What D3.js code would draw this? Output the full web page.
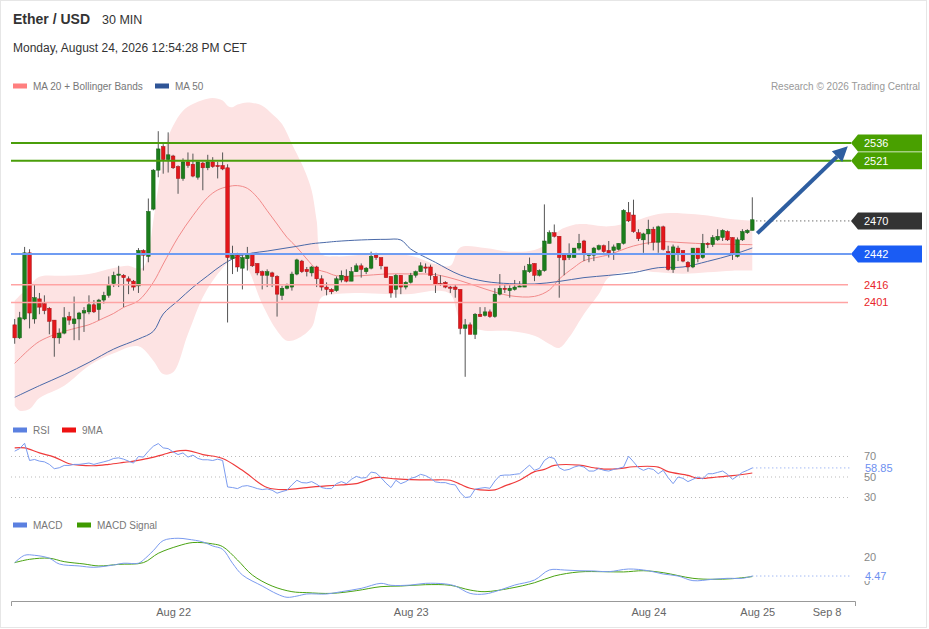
<!DOCTYPE html>
<html>
<head>
<meta charset="utf-8">
<script src="https://cdn.jsdelivr.net/npm/d3@7"></script>
<style>
  body { margin: 0; background: #fff; }
  svg { display: block; font-family: "Liberation Sans", Arial, sans-serif; }
</style>
</head>
<body>
<div id="chart"></div>
<script>
// 30 min candles, [open, high, low, close]
var ohlc = [
  [2382,2387,2366,2371],[2371,2393,2370,2388],[2387,2448,2386,2443],[2443,2446,2379,2392],[2387,2416,2383,2405],
  [2404,2409,2391,2397],[2400,2407,2391,2394],[2396,2397,2374,2385],[2386,2386,2355,2371],[2371,2379,2366,2375],
  [2375,2397,2374,2388],[2389,2393,2382,2386],[2383,2406,2369,2387],[2387,2393,2369,2392],[2392,2397,2376,2394],
  [2393,2407,2391,2399],[2399,2403,2392,2393],[2395,2404,2386,2403],[2403,2410,2400,2407],[2407,2423,2405,2416],
  [2417,2427,2414,2424],[2424,2432,2414,2425],[2424,2425,2397,2422],[2421,2423,2408,2419],[2419,2420,2411,2414],
  [2415,2447,2409,2445],[2445,2446,2428,2441],[2440,2489,2435,2478],[2480,2514,2479,2513],[2513,2546,2507,2531],
  [2533,2535,2510,2522],[2522,2545,2511,2526],[2525,2526,2514,2515],[2516,2517,2493,2506],[2506,2523,2504,2520],
  [2520,2528,2515,2517],[2518,2527,2507,2508],[2507,2520,2505,2520],[2519,2520,2496,2515],[2515,2526,2513,2520],
  [2520,2524,2515,2516],[2517,2520,2506,2516],[2517,2528,2513,2514],[2515,2518,2384,2439],[2438,2449,2425,2441],
  [2441,2443,2427,2431],[2430,2441,2412,2439],[2438,2448,2428,2441],[2442,2443,2431,2432],[2434,2434,2424,2426],
  [2427,2428,2412,2424],[2424,2429,2414,2427],[2426,2427,2414,2423],[2423,2424,2389,2408],[2407,2415,2403,2413],
  [2413,2417,2412,2415],[2414,2427,2411,2425],[2425,2438,2424,2437],[2436,2437,2426,2427],[2429,2431,2423,2427],
  [2426,2432,2423,2431],[2431,2432,2414,2421],[2421,2424,2411,2414],[2414,2418,2407,2412],[2412,2413,2408,2410],
  [2411,2423,2410,2421],[2420,2428,2418,2424],[2423,2429,2418,2419],[2419,2431,2419,2427],[2427,2434,2427,2432],
  [2432,2434,2422,2429],[2427,2431,2425,2430],[2430,2444,2429,2440],[2441,2443,2437,2439],[2439,2439,2429,2432],
  [2431,2431,2422,2422],[2423,2423,2405,2409],[2412,2425,2405,2424],[2424,2424,2408,2414],[2414,2419,2412,2418],
  [2418,2426,2417,2424],[2424,2428,2422,2427],[2427,2435,2427,2432],[2431,2434,2426,2430],[2431,2433,2420,2424],
  [2423,2426,2409,2416],[2417,2424,2415,2416],[2418,2419,2413,2414],[2414,2415,2409,2413],[2414,2416,2405,2412],
  [2412,2412,2374,2379],[2379,2387,2338,2382],[2382,2384,2374,2374],[2374,2392,2370,2391],[2391,2397,2389,2389],
  [2390,2397,2389,2393],[2393,2395,2388,2389],[2389,2413,2388,2408],[2408,2425,2407,2413],[2413,2416,2409,2412],
  [2411,2416,2405,2413],[2412,2420,2411,2414],[2414,2419,2414,2415],[2414,2432,2414,2428],[2427,2439,2426,2433],
  [2434,2434,2419,2424],[2424,2429,2423,2428],[2428,2484,2427,2453],[2451,2462,2451,2460],[2460,2467,2456,2457],
  [2457,2457,2405,2439],[2441,2442,2424,2437],[2439,2451,2437,2441],[2439,2447,2439,2447],[2447,2459,2445,2451],
  [2453,2454,2436,2443],[2440.6,2442,2435,2441.4],[2441,2448,2436,2447],[2446,2450,2445,2449],[2449,2450,2443,2444],
  [2445,2453,2439,2443],[2445,2450,2437,2448],[2446,2451,2445,2451],[2451,2480,2450,2479],[2477,2486,2469,2470],
  [2475,2488,2460,2461],[2460,2463,2453,2455],[2454,2460,2443,2459],[2459,2471,2450,2463],[2463,2465,2445,2452],
  [2452,2466,2443,2465],[2465,2466,2445,2446],[2444,2449,2428,2429],[2429,2450,2426,2448],[2447,2449,2436,2443],
  [2445,2445,2435,2436],[2435,2436,2427,2431],[2431,2447,2430,2447],[2447,2447,2435,2438],[2439,2459,2438,2451],
  [2451,2452,2447,2450],[2450,2458,2448,2456],[2454,2463,2453,2457],[2456,2463,2453,2462],[2461,2462,2453,2454],
  [2456,2456,2437,2443],[2440,2456,2439,2454],[2454,2463,2453,2461],[2460,2463,2459,2462],[2462,2490,2462,2471]
];

// moving averages, [candle index, value]
var ma20 = [[0,2349.4],[3,2361.5],[5,2368.0],[8,2373.7],[10,2376.5],[13,2379.9],[15,2382.1],[18,2387.8],[20,2391.7],
  [22,2396.8],[25,2402.5],[28,2418.0],[30,2433.5],[33,2456.1],[36,2474.5],[39,2490.0],[41,2496.2],[43,2499.0],
  [45,2499.9],[47,2497.6],[49,2490.0],[51,2478.7],[53,2467.4],[55,2456.1],[57,2447.6],[59,2437.8],[61,2429.3],
  [63,2426.5],[65,2423.6],[70,2423.6],[75,2425.1],[80,2425.1],[85,2424.5],[90,2419.4],[95,2412.4],[100,2406.7],
  [105,2406.1],[108,2411.5],[110,2420.8],[113,2430.7],[115,2436.3],[120,2441.4],[125,2448.8],[130,2452.4],
  [135,2451.6],[140,2450.5],[145,2450.2],[149,2449.9]];
var ma50 = [[0,2320.6],[5,2330.5],[10,2339.8],[15,2350.2],[20,2361.5],[25,2370.0],[28,2376.5],[30,2391.2],
  [33,2402.5],[36,2413.8],[39,2423.6],[42,2433.0],[45,2439.7],[48,2442.8],[51,2444.5],[54,2446.5],[57,2448.5],
  [60,2450.7],[63,2451.9],[65,2452.7],[70,2453.9],[75,2454.4],[78,2453.9],[80,2446.2],[85,2434.9],[90,2424.2],
  [95,2418.8],[100,2416.9],[105,2416.6],[110,2418.8],[115,2422.0],[120,2423.9],[125,2426.2],[130,2430.4],
  [135,2431.0],[140,2435.8],[145,2441.4],[149,2447.1]];
var bbUpper = [[0,2402.5],[3,2415.2],[5,2422.8],[10,2423.6],[15,2425.1],[20,2430.1],[23,2432.1],[25,2429.3],
  [26,2430.7],[27,2442.0],[28,2470.2],[29,2498.5],[30,2523.9],[31,2540.8],[32,2550.7],[34,2563.4],[36,2569.0],
  [38,2572.4],[40,2574.1],[42,2571.9],[43,2567.6],[44,2566.2],[45,2568.5],[47,2570.4],[50,2567.6],[52,2560.6],
  [54,2552.1],[56,2535.2],[58,2518.2],[59,2508.3],[60,2495.6],[61,2470.2],[62,2442.0],[65,2440.0],[70,2441.4],
  [75,2442.6],[80,2440.6],[85,2433.5],[88,2432.1],[90,2447.6],[95,2447.1],[100,2444.0],[105,2445.4],[108,2451.9],
  [110,2461.8],[113,2466.8],[115,2467.4],[120,2465.4],[125,2469.7],[130,2475.9],[135,2476.4],[140,2474.7],
  [145,2471.4],[149,2470.2]];
var bbLower = [[0,2313.6],[1,2309.3],[3,2310.7],[5,2320.0],[10,2330.5],[15,2347.4],[20,2357.9],[25,2363.8],
  [28,2351.7],[30,2340.4],[32,2341.8],[35,2374.2],[38,2405.3],[40,2419.4],[43,2434.9],[45,2442.0],[47,2430.7],
  [50,2399.7],[53,2377.1],[55,2368.6],[57,2370.0],[60,2379.9],[61,2394.0],[62,2405.3],[65,2408.1],[70,2409.0],
  [75,2408.1],[80,2408.1],[85,2410.9],[88,2408.1],[90,2385.5],[92,2379.9],[95,2377.1],[100,2376.8],[105,2372.8],
  [108,2365.8],[110,2362.4],[112,2371.4],[115,2391.2],[118,2408.1],[120,2422.2],[125,2427.9],[130,2426.5],
  [135,2425.3],[140,2426.5],[145,2427.9],[149,2427.9]];

// RSI per candle and its 9 period average
var rsi = [75.2,77.7,82.9,66.1,67.1,65.5,64.8,62.3,58.1,59.0, 61.3,61.3,62.3,62.3,62.9,63.6,62.3,63.6,64.8,66.1,
  68.1,68.7,67.4,65.5,63.6,70.0,69.4,75.2,80.0,82.6, 78.4,77.7,74.5,71.9,73.5,69.4,71.3,68.1,66.8,66.8,
  66.1,67.4,66.1,40.3,39.7,38.7,41.0,41.6,40.3,38.7, 37.7,38.4,37.1,34.2,35.8,37.1,42.3,46.8,44.5,44.2,
  45.5,42.9,39.7,38.7,38.7,43.5,45.5,43.5,47.7,50.6, 49.0,49.4,54.8,53.9,49.4,44.0,39.7,46.8,43.5,45.5,
  48.7,50.0,52.6,51.3,48.7,45.2,44.5,44.5,42.9,42.3, 34.8,30.0,30.6,38.1,39.0,39.7,39.0,46.1,51.3,51.9,
  51.9,52.6,53.2,57.4,61.6,56.5,58.4,66.1,69.4,68.1, 59.0,56.5,57.4,59.7,61.0,59.7,55.8,55.8,58.4,56.5,
  55.8,57.4,58.4,59.7,70.3,64.8,59.0,56.5,58.4,57.4, 53.2,56.5,49.4,43.5,50.0,48.7,45.5,47.7,50.0,48.1,
  53.2,53.2,54.5,55.8,52.6,47.7,51.0,54.5,56.5,58.85];
var rsiMa = [[0,78.4],[2,78.4],[5,73.5],[8,69.4],[11,62.9],[13,61.6],[16,61.0],[19,62.3],[22,64.2],[24,65.5],
  [27,68.1],[30,71.9],[32,74.5],[35,75.8],[38,71.9],[42,68.1],[46,56.5],[51,39.7],[55,37.7],[59,39.7],[63,41.3],
  [66,42.3],[69,43.5],[73,49.4],[77,48.1],[80,47.4],[84,47.1],[88,46.8],[90,42.9],[92,39.0],[94,37.4],[97,37.4],
  [99,41.3],[102,46.8],[105,55.2],[107,57.4],[109,61.3],[114,61.6],[117,59.0],[119,57.7],[122,58.1],[125,60.0],
  [130,59.7],[132,55.2],[136,51.6],[138,48.7],[142,50.0],[145,51.3],[149,53.9]];

// MACD and signal, [candle index, value]
var macd = [[0,15.4],[2,21.4],[4,21.4],[7,19.0],[9,14.3],[13,12.7],[16,11.6],[20,13.5],[22,14.9],[25,14.9],
  [26,17.6],[28,25.2],[30,33.4],[33,35.3],[35,34.5],[38,32.3],[40,29.0],[42,26.3],[44,14.9],[46,5.3],[50,-3.7],
  [53,-10.2],[55,-12.9],[57,-11.9],[59,-10.2],[63,-10.2],[66,-8.3],[70,-5.6],[74,-1.5],[76,-3.1],[80,-2.9],
  [83,-1.5],[87,-2.0],[89,-3.7],[92,-9.7],[95,-10.2],[98,-7.0],[101,-2.9],[105,1.2],[108,9.4],[111,9.4],
  [114,8.8],[117,8.6],[120,8.0],[124,10.2],[128,8.8],[131,6.1],[134,4.5],[137,0.7],[141,1.8],[144,2.6],
  [147,2.6],[149,4.47]];
var macdSignal = [[0,15.4],[3,18.1],[7,19.0],[10,16.2],[14,14.3],[17,12.7],[21,14.0],[26,15.4],[29,23.0],
  [33,29.0],[36,31.8],[40,30.7],[42,28.5],[45,17.6],[48,5.3],[52,-3.7],[56,-8.3],[59,-9.1],[64,-9.7],[69,-7.5],
  [74,-4.2],[78,-3.7],[83,-2.6],[88,-3.1],[92,-7.0],[95,-8.3],[100,-5.6],[105,-1.0],[109,4.5],[114,7.8],
  [119,8.0],[123,7.8],[127,8.8],[131,7.2],[137,2.6],[141,1.8],[145,2.3],[149,4.0]];

// key levels on the right
var resistLevels = [2536, 2521];
var supportLevel = 2442;
var lastPrice = 2470;
var minorLevels = [2416, 2401];
var targetLevel = 2535;

// axis labels
var xTickIdx = [32, 80, 128, 150, 164];
var xTickLabels = ["Aug 22", "Aug 23", "Aug 24", "Aug 25", "Sep 8"];
var rsiTicks = [70, 50, 30];
var rsiLast = "58.85";
var macdTicks = [20, 0];
var macdLast = "4.47";

function drawChart() {
  var width = 929, height = 629;
  var plotLeft = 11, plotRight = 855, tagX = 851;

  var svg = d3.select("#chart")
    .append("svg")
    .attr("width", width)
    .attr("height", height);

  // light frame
  svg.append("rect")
    .attr("x", 0.5).attr("y", 0.5)
    .attr("width", 926).attr("height", 627)
    .attr("fill", "none")
    .attr("stroke", "#e6e6e6");

  var x = d3.scaleLinear().domain([0, 149]).range([14.7, 752.3]);
  var y = d3.scaleLinear().domain([2442, 2536]).range([254, 143]);
  var yRsi = d3.scaleLinear().domain([30, 70]).range([497.5, 456.5]);
  var yMacd = d3.scaleLinear().domain([0, 20]).range([581.5, 557]);

  // header
  svg.append("text").attr("x", 13).attr("y", 24)
    .attr("font-size", 14).attr("font-weight", "bold").attr("fill", "#333")
    .text("Ether / USD");
  svg.append("text").attr("x", 102).attr("y", 24)
    .attr("font-size", 12.5).attr("fill", "#333")
    .text("30 MIN");
  svg.append("text").attr("x", 13).attr("y", 52)
    .attr("font-size", 12).attr("fill", "#333")
    .text("Monday, August 24, 2026 12:54:28 PM CET");
  svg.append("text").attr("x", 920).attr("y", 89.5)
    .attr("font-size", 10).attr("fill", "#999").attr("text-anchor", "end")
    .text("Research \u00a9 2026 Trading Central");

  function legend(items, ly) {
    items.forEach(function (it) {
      svg.append("rect").attr("x", it.x).attr("y", ly - 2.5)
        .attr("width", 14).attr("height", 5).attr("fill", it.color);
      svg.append("text").attr("x", it.x + 20).attr("y", ly + 3.5)
        .attr("font-size", 10).attr("fill", "#777").text(it.label);
    });
  }
  legend([{x: 13, color: "#ff7f7f", label: "MA 20 + Bollinger Bands"},
          {x: 155, color: "#2f5597", label: "MA 50"}], 86);
  legend([{x: 13, color: "#5b80e0", label: "RSI"},
          {x: 62, color: "#ee1111", label: "9MA"}], 430);
  legend([{x: 13, color: "#5b80e0", label: "MACD"},
          {x: 77, color: "#3f9a00", label: "MACD Signal"}], 525);

  // bollinger band fill
  var curve = d3.curveCatmullRom.alpha(0.5);
  var bandLine = d3.line().curve(curve)
    .x(function (d) { return x(d[0]); })
    .y(function (d) { return y(d[1]); });
  var upPath = bandLine(bbUpper);
  var lowPath = bandLine(bbLower.slice().reverse());
  svg.append("path")
    .attr("d", upPath + "L" + lowPath.slice(1) + "Z")
    .attr("fill", "#fde3e3")
    .attr("stroke", "none");

  svg.append("path")
    .attr("d", bandLine(ma20))
    .attr("fill", "none").attr("stroke", "#f28a8a").attr("stroke-width", 1);
  svg.append("path")
    .attr("d", bandLine(ma50))
    .attr("fill", "none").attr("stroke", "#4a69a8").attr("stroke-width", 1);

  // candles
  var candles = svg.append("g");
  ohlc.forEach(function (d, i) {
    var up = d[3] >= d[0];
    var cx = x(i);
    candles.append("line")
      .attr("x1", cx).attr("x2", cx)
      .attr("y1", y(d[1])).attr("y2", y(d[2]))
      .attr("stroke", "#555").attr("stroke-width", 1);
    var top = y(Math.max(d[0], d[3])), bot = y(Math.min(d[0], d[3]));
    candles.append("rect")
      .attr("x", cx - 1.8).attr("width", 3.6)
      .attr("y", top).attr("height", Math.max(1, bot - top))
      .attr("fill", up ? "#1c7d1c" : "#e3171b")
      .attr("stroke", up ? "#155e15" : "#a51216")
      .attr("stroke-width", 0.5);
  });

  // levels
  resistLevels.forEach(function (lv) {
    svg.append("line").attr("x1", plotLeft).attr("x2", tagX)
      .attr("y1", y(lv)).attr("y2", y(lv))
      .attr("stroke", "#4a9e0a").attr("stroke-width", 2);
  });
  svg.append("line").attr("x1", plotLeft).attr("x2", tagX)
    .attr("y1", y(supportLevel)).attr("y2", y(supportLevel))
    .attr("stroke", "#6f9cf2").attr("stroke-width", 2);
  minorLevels.forEach(function (lv) {
    svg.append("line").attr("x1", plotLeft).attr("x2", 848)
      .attr("y1", y(lv)).attr("y2", y(lv))
      .attr("stroke", "#ffa3a3").attr("stroke-width", 1.5);
    svg.append("text").attr("x", 864).attr("y", y(lv)).attr("dy", "0.35em")
      .attr("font-size", 11).attr("fill", "#e8262a").text(lv);
  });

  // dotted line from last candle to last price tag
  svg.append("line").attr("x1", x(149) + 4).attr("x2", tagX)
    .attr("y1", y(lastPrice)).attr("y2", y(lastPrice))
    .attr("stroke", "#333").attr("stroke-width", 1).attr("stroke-dasharray", "1,3");

  function tag(val, color) {
    var ty = y(val);
    svg.append("path")
      .attr("d", "M" + tagX + "," + ty + "L" + (tagX + 7) + "," + (ty - 8.5) + "L922," + (ty - 8.5) +
        "L922," + (ty + 8.5) + "L" + (tagX + 7) + "," + (ty + 8.5) + "Z")
      .attr("fill", color);
    svg.append("text").attr("x", 864).attr("y", ty).attr("dy", "0.36em")
      .attr("font-size", 11).attr("fill", "#fff").text(val);
  }
  resistLevels.forEach(function (lv) { tag(lv, "#49a000"); });
  tag(lastPrice, "#333333");
  tag(supportLevel, "#1a5cf4");

  // target arrow
  var ax0 = x(149) + 5, ay0 = y(ohlc[148][3]) + 3;
  var ax1 = x(168.3), ay1 = y(targetLevel) + 2;
  var ang = Math.atan2(ay1 - ay0, ax1 - ax0);
  var headLen = 15, headW = 7.5;
  var bx = ax1 - headLen * Math.cos(ang), by = ay1 - headLen * Math.sin(ang);
  svg.append("line").attr("x1", ax0).attr("y1", ay0).attr("x2", bx).attr("y2", by)
    .attr("stroke", "#2e5ea0").attr("stroke-width", 4);
  svg.append("path")
    .attr("d", "M" + ax1 + "," + ay1 +
      "L" + (bx + headW * Math.sin(ang)) + "," + (by - headW * Math.cos(ang)) +
      "L" + (bx - headW * Math.sin(ang)) + "," + (by + headW * Math.cos(ang)) + "Z")
    .attr("fill", "#2e5ea0");

  // RSI panel
  rsiTicks.forEach(function (t) {
    svg.append("line").attr("x1", plotLeft).attr("x2", 850)
      .attr("y1", yRsi(t)).attr("y2", yRsi(t))
      .attr("stroke", "#bbb").attr("stroke-width", 1).attr("stroke-dasharray", "1,3");
    svg.append("text").attr("x", 864).attr("y", yRsi(t)).attr("dy", "0.35em")
      .attr("font-size", 11).attr("fill", "#888").text(t);
  });
  svg.append("path").datum(rsiMa)
    .attr("fill", "none").attr("stroke", "#ef3b3b").attr("stroke-width", 1.2)
    .attr("d", d3.line().curve(curve)
      .x(function (d) { return x(d[0]); })
      .y(function (d) { return yRsi(d[1]); }));
  svg.append("path").datum(rsi)
    .attr("fill", "none").attr("stroke", "#7b9bef").attr("stroke-width", 1)
    .attr("d", d3.line()
      .x(function (d, i) { return x(i); })
      .y(function (d) { return yRsi(d); }));
  var rsiY = yRsi(+rsiLast);
  svg.append("line").attr("x1", x(149)).attr("x2", 852)
    .attr("y1", rsiY).attr("y2", rsiY)
    .attr("stroke", "#7b9bef").attr("stroke-dasharray", "1,3");
  svg.append("rect").attr("x", 862).attr("y", rsiY - 6).attr("width", 34).attr("height", 11)
    .attr("fill", "#fff");
  svg.append("text").attr("x", 865).attr("y", rsiY).attr("dy", "0.35em")
    .attr("font-size", 11).attr("fill", "#6d8ff0").text(rsiLast);

  // MACD panel
  macdTicks.forEach(function (t) {
    svg.append("text").attr("x", 864).attr("y", yMacd(t)).attr("dy", "0.35em")
      .attr("font-size", 11).attr("fill", "#888").text(t);
  });
  var macdLine = d3.line().curve(curve)
    .x(function (d) { return x(d[0]); })
    .y(function (d) { return yMacd(d[1]); });
  svg.append("path").attr("d", macdLine(macdSignal))
    .attr("fill", "none").attr("stroke", "#4aa312").attr("stroke-width", 1);
  svg.append("path").attr("d", macdLine(macd))
    .attr("fill", "none").attr("stroke", "#7b9bef").attr("stroke-width", 1);
  var macdY = yMacd(+macdLast);
  svg.append("line").attr("x1", x(149)).attr("x2", 852)
    .attr("y1", macdY).attr("y2", macdY)
    .attr("stroke", "#7b9bef").attr("stroke-dasharray", "1,3");
  svg.append("rect").attr("x", 862).attr("y", macdY - 6).attr("width", 28).attr("height", 11)
    .attr("fill", "#fff");
  svg.append("text").attr("x", 865).attr("y", macdY).attr("dy", "0.35em")
    .attr("font-size", 11).attr("fill", "#6d8ff0").text(macdLast);

  // x axis
  var xAxisScale = x.copy().domain([x.invert(plotLeft), x.invert(plotRight)]).range([plotLeft, plotRight]);
  var xAxis = svg.append("g")
    .attr("transform", "translate(0,601)")
    .call(d3.axisBottom(xAxisScale)
      .tickValues(xTickIdx)
      .tickFormat(function (d, i) { return xTickLabels[i]; })
      .tickSizeInner(0)
      .tickSizeOuter(5)
      .tickPadding(7));
  xAxis.select(".domain").attr("stroke", "#999");
  xAxis.selectAll("text")
    .attr("font-size", 11)
    .attr("font-family", "Liberation Sans, Arial, sans-serif")
    .attr("fill", "#666");
}

drawChart();
</script>
</body>
</html>
